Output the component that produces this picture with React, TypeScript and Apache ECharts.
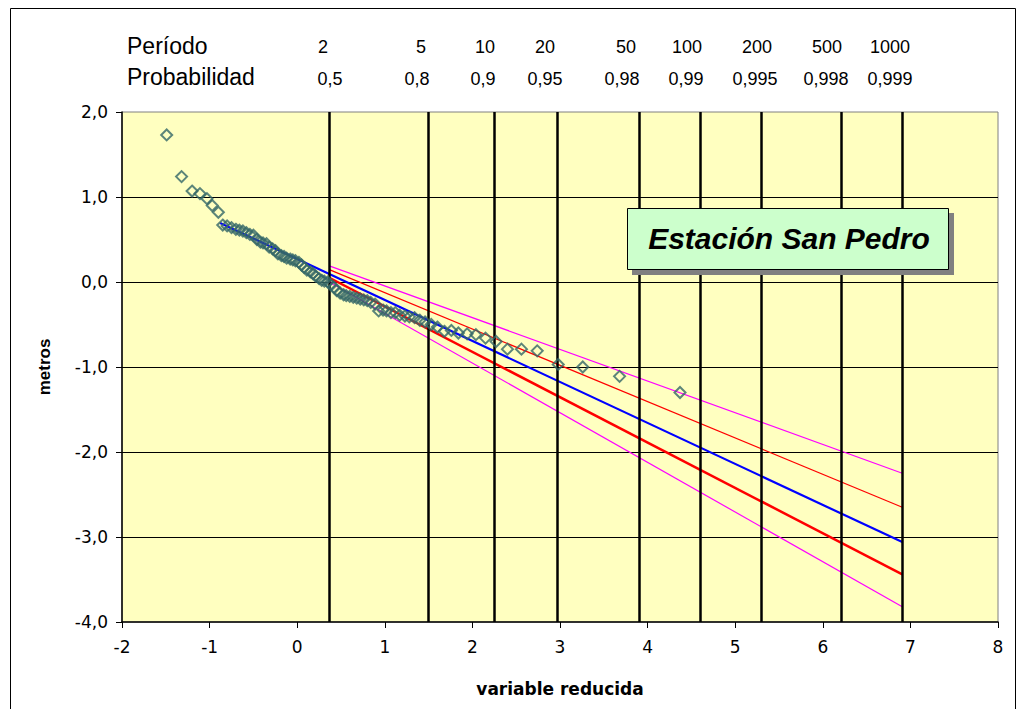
import React, { useEffect, useRef } from "react";
import * as echarts from "echarts";

// Gumbel reduced variate (x) and observed values in metres (y)
const reducedX = [
  -1.49, -1.32, -1.2, -1.11, -1.03, -0.97, -0.9, -0.85, -0.8, -0.75,
  -0.7, -0.66, -0.62, -0.58, -0.54, -0.5, -0.46, -0.42, -0.39, -0.35,
  -0.32, -0.28, -0.25, -0.22, -0.18, -0.15, -0.12, -0.08, -0.05, -0.02,
  0.02, 0.05, 0.08, 0.11, 0.15, 0.18, 0.21, 0.25, 0.28, 0.31,
  0.35, 0.38, 0.42, 0.45, 0.49, 0.53, 0.56, 0.6, 0.64, 0.68,
  0.72, 0.76, 0.8, 0.84, 0.89, 0.93, 0.98, 1.02, 1.07, 1.12,
  1.17, 1.23, 1.28, 1.34, 1.4, 1.46, 1.53, 1.6, 1.68, 1.76,
  1.84, 1.94, 2.04, 2.15, 2.27, 2.4, 2.56, 2.74, 2.98, 3.26,
  3.68, 4.37,
];
const metros = [
  1.73, 1.24, 1.07, 1.04, 0.98, 0.9, 0.82, 0.67, 0.66, 0.64,
  0.62, 0.61, 0.6, 0.58, 0.56, 0.55, 0.5, 0.47, 0.46, 0.45,
  0.41, 0.39, 0.37, 0.33, 0.31, 0.3, 0.28, 0.27, 0.26, 0.25,
  0.23, 0.2, 0.17, 0.14, 0.12, 0.1, 0.07, 0.04, 0.02, 0.01,
  0.0, -0.03, -0.06, -0.1, -0.13, -0.15, -0.16, -0.17, -0.18, -0.19,
  -0.2, -0.21, -0.22, -0.24, -0.26, -0.34, -0.33, -0.34, -0.36, -0.36,
  -0.39, -0.4, -0.41, -0.42, -0.45, -0.47, -0.5, -0.53, -0.58, -0.57,
  -0.6, -0.61, -0.62, -0.66, -0.7, -0.79, -0.79, -0.81, -0.97, -1.0,
  -1.11, -1.3,
];

// Return periods, probabilities and their reduced variates
const periodLabels = ["2", "5", "10", "20", "50", "100", "200", "500", "1000"];
const probLabels = ["0,5", "0,8", "0,9", "0,95", "0,98", "0,99", "0,995", "0,998", "0,999"];
const periodVariate = [0.3665, 1.4999, 2.2504, 2.9702, 3.9019, 4.6001, 5.2958, 6.2136, 6.9073];

// Fitted lines (start, end)
const blueFit = [[-0.88, 0.695], [6.9073, -3.06]];
const redFit = [[0.3665, 0.05], [6.9073, -3.44]];
const redUpper = [[0.3665, 0.145], [6.9073, -2.65]];
const pinkUpper = [[0.3665, 0.19], [6.9073, -2.25]];
const pinkLower = [[0.3665, 0.0], [6.9073, -3.82]];

// layout (pixels) for the header texts
const periodTextX = [323, 421, 485, 545, 626, 687, 757, 827, 890];
const probTextX = [330, 417, 483, 545, 622, 686, 755, 826, 890];

export default function App() {
  const ref = useRef<HTMLDivElement>(null);
  useEffect(() => {
    const chart = echarts.init(ref.current!, null, { renderer: "svg" });
    const font = "'Liberation Sans', Arial, sans-serif";
    const tickFont = "'DejaVu Sans', sans-serif";
    const lineSeries = (name: string, data: number[][], color: string, width: number, z: number) => ({
      name,
      type: "line",
      data,
      symbol: "none",
      silent: true,
      z,
      lineStyle: { color, width },
    });
    const graphics: any[] = [
      {
        type: "rect",
        z: 1,
        shape: { x: 10.5, y: 8.5, width: 1005, height: 720 },
        style: { fill: "none", stroke: "#000", lineWidth: 1 },
      },
      {
        type: "text",
        z: 100,
        x: 127,
        y: 46,
        style: { text: "Período", font: `23px ${font}`, fill: "#000", textAlign: "left", textVerticalAlign: "middle" },
      },
      {
        type: "text",
        z: 100,
        x: 127,
        y: 77,
        style: { text: "Probabilidad", font: `23px ${font}`, fill: "#000", textAlign: "left", textVerticalAlign: "middle" },
      },
      ...periodLabels.map((t, i) => ({
        type: "text",
        z: 100,
        x: periodTextX[i],
        y: 47,
        style: { text: t, font: `18px ${font}`, fill: "#000", textAlign: "center", textVerticalAlign: "middle" },
      })),
      ...probLabels.map((t, i) => ({
        type: "text",
        z: 100,
        x: probTextX[i],
        y: 79,
        style: { text: t, font: `18px ${font}`, fill: "#000", textAlign: "center", textVerticalAlign: "middle" },
      })),
      {
        type: "rect",
        z: 100,
        shape: { x: 632, y: 213, width: 322, height: 62 },
        style: { fill: "#808080" },
      },
      {
        type: "rect",
        z: 101,
        shape: { x: 627.5, y: 208.5, width: 321, height: 61 },
        style: { fill: "#CCFFCC", stroke: "#000", lineWidth: 1 },
      },
      {
        type: "text",
        z: 102,
        x: 789,
        y: 238,
        style: {
          text: "Estación San Pedro",
          font: `italic bold 30px ${font}`,
          fill: "#000",
          textAlign: "center",
          textVerticalAlign: "middle",
        },
      },
      {
        type: "text",
        z: 100,
        x: 44,
        y: 367,
        rotation: Math.PI / 2,
        style: { text: "metros", font: `bold 17px ${font}`, fill: "#000", textAlign: "center", textVerticalAlign: "middle" },
      },
      {
        type: "text",
        z: 100,
        x: 560,
        y: 689,
        style: {
          text: "variable reducida",
          font: `bold 17px ${tickFont}`,
          fill: "#000",
          textAlign: "center",
          textVerticalAlign: "middle",
        },
      },
    ];

    const option: any = {
      animation: false,
      backgroundColor: "#ffffff",
      grid: {
        left: 122,
        right: 20,
        top: 112,
        bottom: 87,
        show: true,
        backgroundColor: "#FFFFC0",
        borderColor: "#808080",
        borderWidth: 1,
      },
      xAxis: {
        type: "value",
        min: -2,
        max: 8,
        interval: 1,
        axisLine: { show: true, onZero: false, lineStyle: { color: "#000", width: 1.5 } },
        axisTick: { show: true, length: 6, lineStyle: { color: "#000", width: 1 } },
        splitLine: { show: false },
        axisLabel: { margin: 16, color: "#000", fontFamily: tickFont, fontSize: 17 },
      },
      yAxis: {
        type: "value",
        min: -4,
        max: 2,
        interval: 1,
        axisLine: { show: true, onZero: false, lineStyle: { color: "#000", width: 1.5 } },
        axisTick: { show: true, length: 6, lineStyle: { color: "#000", width: 1 } },
        splitLine: { show: true, showMaxLine: false, showMinLine: false, lineStyle: { color: "#000", width: 1 } },
        axisLabel: {
          margin: 14,
          color: "#000",
          fontFamily: tickFont,
          fontSize: 17,
          formatter: (v: number) => v.toFixed(1).replace(".", ","),
        },
      },
      graphic: graphics,
      series: [
        {
          type: "line",
          data: [],
          silent: true,
          z: 1,
          markLine: {
            silent: true,
            symbol: "none",
            label: { show: false },
            lineStyle: { color: "#000", width: 2.5, type: "solid" },
            data: periodVariate.map((v) => ({ xAxis: v })),
          },
        },
        lineSeries("pinkLower", pinkLower, "#FF00FF", 1.2, 3),
        lineSeries("pinkUpper", pinkUpper, "#FF00FF", 1.2, 3),
        lineSeries("redUpper", redUpper, "#FF0000", 1.2, 3),
        lineSeries("redFit", redFit, "#FF0000", 2.5, 4),
        lineSeries("blueFit", blueFit, "#0000FF", 2.2, 4),
        {
          name: "obs",
          type: "scatter",
          z: 10,
          symbol: "diamond",
          symbolSize: 11,
          data: reducedX.map((x, i) => [x, metros[i]]),
          itemStyle: { color: "rgba(0,0,0,0)", borderColor: "#336666", borderWidth: 2 },
        },
      ],
    };
    chart.setOption(option);
    return () => chart.dispose();
  }, []);
  return (
    <div
      ref={ref}
      style={{ position: "absolute", left: 0, top: 0, width: 1018, height: 709, background: "#fff" }}
    />
  );
}
